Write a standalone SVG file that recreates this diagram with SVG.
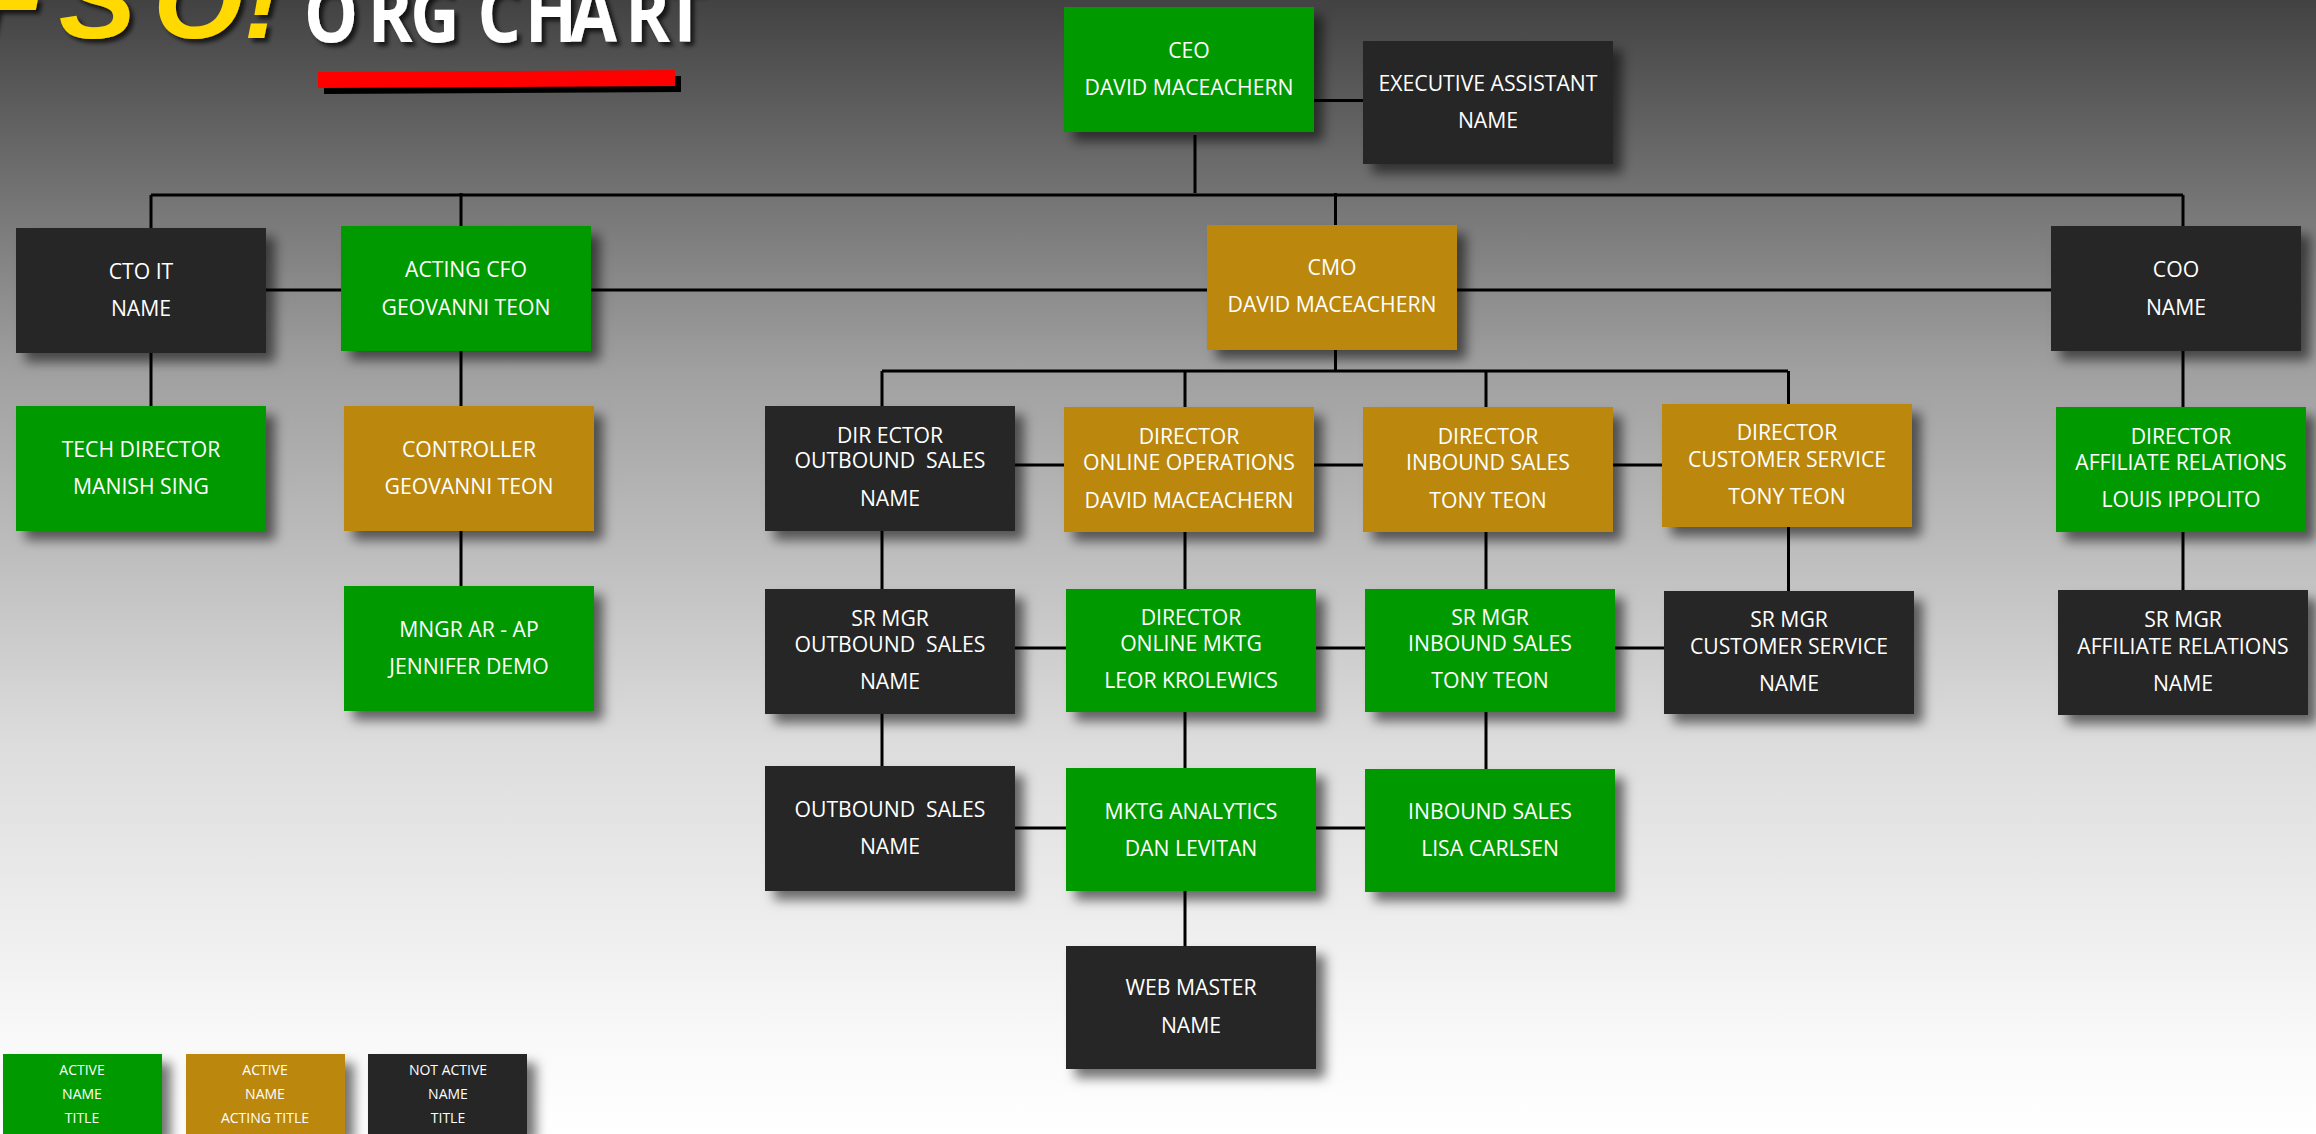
<svg xmlns="http://www.w3.org/2000/svg" width="2316" height="1134" viewBox="0 0 2316 1134">
<style>
.g{fill:#009a00}.a{fill:#bb880c}.d{fill:#262626}
.n rect{filter:url(#s)}
.n text,.l text{fill:#fff;font-family:"Open Sans","Noto Sans",sans-serif;font-size:21.2px;text-anchor:middle}
.l text{font-size:14px}
#connectors path{fill:none;stroke:#000;stroke-width:3}
</style>
<defs>
<linearGradient id="bg" gradientUnits="userSpaceOnUse" x1="0" y1="0" x2="0" y2="1134">
<stop offset="0" stop-color="#424242"/><stop offset="0.327" stop-color="#a0a0a0"/><stop offset="0.653" stop-color="#dcdcdc"/><stop offset="0.917" stop-color="#f9f9f9"/><stop offset="1" stop-color="#fff"/>
</linearGradient>
<filter id="s" x="-10%" y="-15%" width="130%" height="140%"><feDropShadow dx="9" dy="9" stdDeviation="6" flood-color="#000" flood-opacity=".55"/></filter>
<filter id="t" x="-5%" y="-20%" width="110%" height="150%"><feDropShadow dx="4" dy="4" stdDeviation="2" flood-color="#000" flood-opacity=".7"/></filter>
</defs>
<rect width="2316" height="1134" fill="url(#bg)"/>
<g id="title">
<g filter="url(#t)"><text transform="translate(0 38) scale(1.05 1)" x="-25 56 146 232" y="0" font-family="Liberation Sans,sans-serif" font-weight="700" font-style="italic" font-size="110" fill="#ffd900">FSO!</text></g>
<g filter="url(#t)"><text transform="translate(304 42) scale(.85 1)" x="0 75 125 204 260 313 378 425" y="0" font-family="Open Sans,sans-serif" font-weight="700" font-size="80" fill="#fff">ORGCHART</text></g>
<polygon points="324,78 681,76 681,92 324,94" fill="#000"/>
<polygon points="318,72 675,70 675,86 318,88" fill="#f00"/>
</g>
<g id="connectors">
<path d="M1195 135V193M151 195H2183M151 195V228M461 193V226M1335.5 193V225M2183 195V226M1314 100.500H1363"/>
<path d="M266 290H341M591 290H1207M1457 290H2051"/>
<path d="M151 353V406M461 351V406M461 531V586"/>
<path d="M882 371H1788M1335.500 350V371M882 371V406M1185 371V407M1486 371V407M1788.500 371V404"/>
<path d="M1015 465H1064M1314 465H1363M1613 465H1662"/>
<path d="M882 531V589M882 714V766M1185 532V589M1185 712V768M1185 891V946M1486 532V589M1486 712V769M1788.500 527V591M2183 351V407M2183 532V590"/>
<path d="M1015 648H1066M1316 648H1365M1615 648H1664M1015 828H1066M1316 828H1365"/>
</g>
<g id="ceo" class="n"><rect class="g" x="1064" y="7" width="250" height="125"/><text x="1189" y="58">CEO</text><text x="1189" y="95">DAVID MACEACHERN</text></g>
<g id="exec-assistant" class="n"><rect class="d" x="1363" y="41" width="250" height="123"/><text x="1488" y="91">EXECUTIVE ASSISTANT</text><text x="1488" y="128">NAME</text></g>
<g id="cto" class="n"><rect class="d" x="16" y="228" width="250" height="125"/><text x="141" y="279">CTO IT</text><text x="141" y="316">NAME</text></g>
<g id="cfo" class="n"><rect class="g" x="341" y="226" width="250" height="125"/><text x="466" y="277">ACTING CFO</text><text x="466" y="315">GEOVANNI TEON</text></g>
<g id="cmo" class="n"><rect class="a" x="1207" y="225" width="250" height="125"/><text x="1332" y="275">CMO</text><text x="1332" y="312">DAVID MACEACHERN</text></g>
<g id="coo" class="n"><rect class="d" x="2051" y="226" width="250" height="125"/><text x="2176" y="277">COO</text><text x="2176" y="315">NAME</text></g>
<g id="tech-director" class="n"><rect class="g" x="16" y="406" width="250" height="125"/><text x="141" y="457">TECH DIRECTOR</text><text x="141" y="494">MANISH SING</text></g>
<g id="controller" class="n"><rect class="a" x="344" y="406" width="250" height="125"/><text x="469" y="457">CONTROLLER</text><text x="469" y="494">GEOVANNI TEON</text></g>
<g id="mngr-ar-ap" class="n"><rect class="g" x="344" y="586" width="250" height="125"/><text x="469" y="637">MNGR AR - AP</text><text x="469" y="674">JENNIFER DEMO</text></g>
<g id="dir-outbound" class="n"><rect class="d" x="765" y="406" width="250" height="125"/><text x="890" y="443">DIR ECTOR</text><text x="890" y="468" xml:space="preserve">OUTBOUND  SALES</text><text x="890" y="506">NAME</text></g>
<g id="dir-online-ops" class="n"><rect class="a" x="1064" y="407" width="250" height="125"/><text x="1189" y="444">DIRECTOR</text><text x="1189" y="470">ONLINE OPERATIONS</text><text x="1189" y="508">DAVID MACEACHERN</text></g>
<g id="dir-inbound" class="n"><rect class="a" x="1363" y="407" width="250" height="125"/><text x="1488" y="444">DIRECTOR</text><text x="1488" y="470">INBOUND SALES</text><text x="1488" y="508">TONY TEON</text></g>
<g id="dir-cs" class="n"><rect class="a" x="1662" y="404" width="250" height="123"/><text x="1787" y="440">DIRECTOR</text><text x="1787" y="467">CUSTOMER SERVICE</text><text x="1787" y="504">TONY TEON</text></g>
<g id="dir-affiliate" class="n"><rect class="g" x="2056" y="407" width="250" height="125"/><text x="2181" y="444">DIRECTOR</text><text x="2181" y="470">AFFILIATE RELATIONS</text><text x="2181" y="507">LOUIS IPPOLITO</text></g>
<g id="sr-outbound" class="n"><rect class="d" x="765" y="589" width="250" height="125"/><text x="890" y="626">SR MGR</text><text x="890" y="652" xml:space="preserve">OUTBOUND  SALES</text><text x="890" y="689">NAME</text></g>
<g id="dir-online-mktg" class="n"><rect class="g" x="1066" y="589" width="250" height="123"/><text x="1191" y="625">DIRECTOR</text><text x="1191" y="651">ONLINE MKTG</text><text x="1191" y="688">LEOR KROLEWICS</text></g>
<g id="sr-inbound" class="n"><rect class="g" x="1365" y="589" width="250" height="123"/><text x="1490" y="625">SR MGR</text><text x="1490" y="651">INBOUND SALES</text><text x="1490" y="688">TONY TEON</text></g>
<g id="sr-cs" class="n"><rect class="d" x="1664" y="591" width="250" height="123"/><text x="1789" y="627">SR MGR</text><text x="1789" y="654">CUSTOMER SERVICE</text><text x="1789" y="691">NAME</text></g>
<g id="sr-affiliate" class="n"><rect class="d" x="2058" y="590" width="250" height="125"/><text x="2183" y="627">SR MGR</text><text x="2183" y="654">AFFILIATE RELATIONS</text><text x="2183" y="691">NAME</text></g>
<g id="outbound" class="n"><rect class="d" x="765" y="766" width="250" height="125"/><text x="890" y="817" xml:space="preserve">OUTBOUND  SALES</text><text x="890" y="854">NAME</text></g>
<g id="mktg-analytics" class="n"><rect class="g" x="1066" y="768" width="250" height="123"/><text x="1191" y="819">MKTG ANALYTICS</text><text x="1191" y="856">DAN LEVITAN</text></g>
<g id="inbound" class="n"><rect class="g" x="1365" y="769" width="250" height="123"/><text x="1490" y="819">INBOUND SALES</text><text x="1490" y="856">LISA CARLSEN</text></g>
<g id="web-master" class="n"><rect class="d" x="1066" y="946" width="250" height="123"/><text x="1191" y="995">WEB MASTER</text><text x="1191" y="1033">NAME</text></g>
<g id="legend-green" class="n l"><rect class="g" x="3" y="1054" width="159" height="80"/><text x="82" y="1075">ACTIVE</text><text x="82" y="1099">NAME</text><text x="82" y="1123">TITLE</text></g>
<g id="legend-gold" class="n l"><rect class="a" x="186" y="1054" width="159" height="80"/><text x="265" y="1075">ACTIVE</text><text x="265" y="1099">NAME</text><text x="265" y="1123">ACTING TITLE</text></g>
<g id="legend-dark" class="n l"><rect class="d" x="368" y="1054" width="159" height="80"/><text x="448" y="1075">NOT ACTIVE</text><text x="448" y="1099">NAME</text><text x="448" y="1123">TITLE</text></g>
</svg>
